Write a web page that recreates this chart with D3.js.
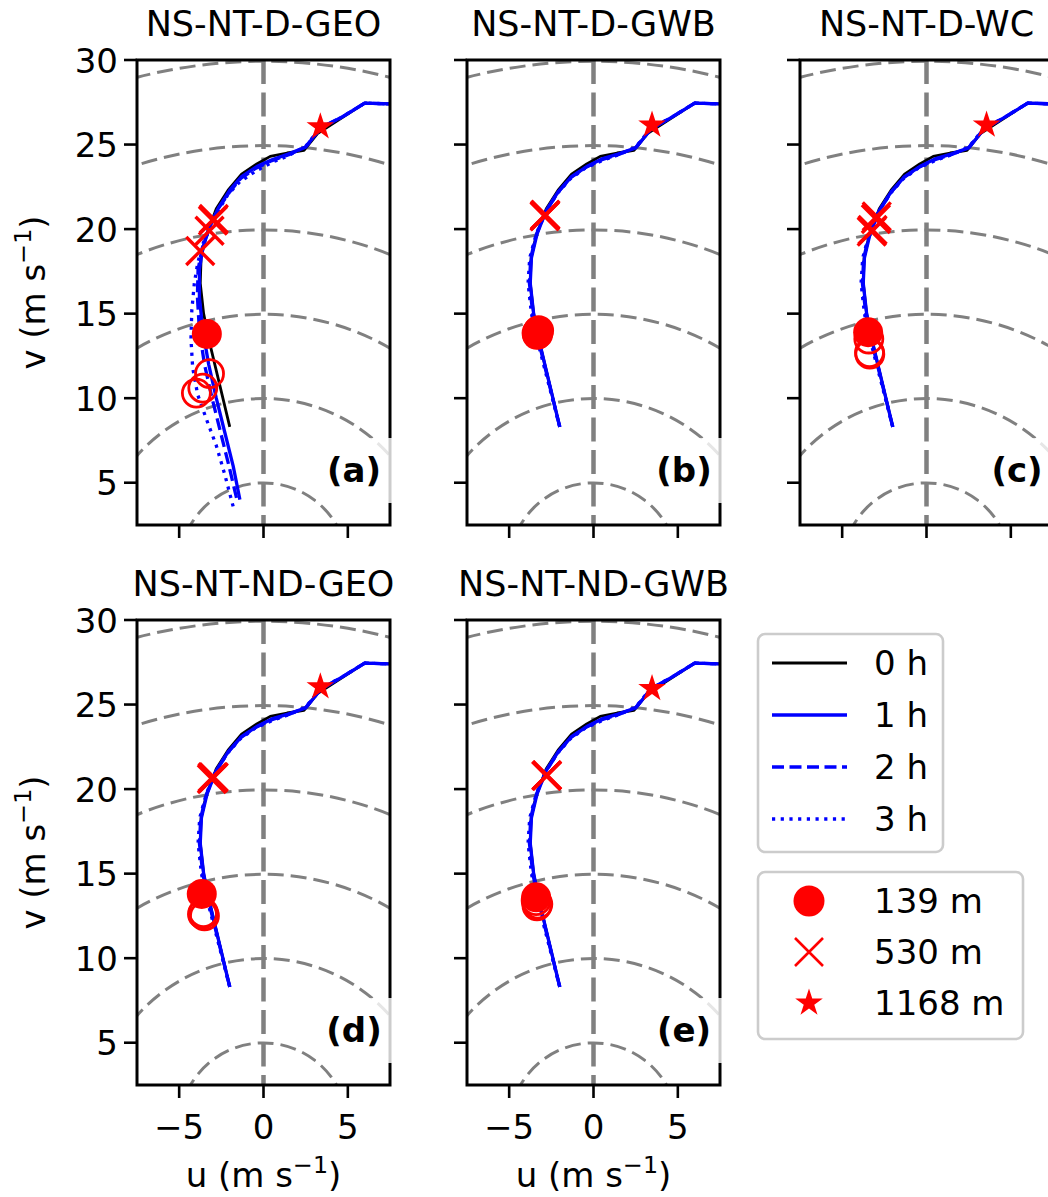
<!DOCTYPE html>
<html><head><meta charset="utf-8">
<script src="https://cdn.jsdelivr.net/npm/d3@7"></script>
<style>body{margin:0;background:#fff} svg{display:block} text{font-family:"DejaVu Sans",sans-serif}</style>
</head><body><svg id="chart" width="1048" height="1197"></svg>
<script>
// ---------------- data ----------------
const panelIds = ["a", "b", "c", "d", "e"];
const panelTitles = ["NS-NT-D-GEO", "NS-NT-D-GWB", "NS-NT-D-WC", "NS-NT-ND-GEO", "NS-NT-ND-GWB"];
const xTicks = [-5, 0, 5];
const yTicks = [5, 10, 15, 20, 25, 30];
const ringRadii = [5, 10, 15, 20, 25, 30];
const timeLabels = ["0 h", "1 h", "2 h", "3 h"];
const heightLabels = ["139 m", "530 m", "1168 m"];

// 0 h hodograph (u, v) – same initial profile in every panel
const hodo0h = [[-2.0,8.3],[-2.6,10.8],[-3.2,13.3],[-3.55,15.0],[-3.75,16.8],[-3.7,18.3],[-3.4,19.6],[-2.8,21.2],[-2.1,22.3],[-1.3,23.25],[-0.4,23.85],[0.4,24.3],[1.4,24.5],[2.4,24.65],[3.2,25.65],[4.6,26.55],[6.0,27.45],[7.6,27.4]];

// panel (a)
const hodoA1h = [[-1.4,4.0],[-1.8,6.0],[-2.3,8.0],[-2.8,10.0],[-3.25,12.0],[-3.6,14.0],[-3.8,16.0],[-3.8,17.6],[-3.6,18.9],[-3.2,20.1],[-2.7,21.2],[-2.0,22.3],[-1.3,23.1],[-0.4,23.7],[0.5,24.1],[1.5,24.45],[2.5,24.85],[3.4,26.0],[4.7,26.65],[6.0,27.45],[7.6,27.4]];
const hodoA2h = [[-1.6,4.1],[-2.05,6.0],[-2.55,8.0],[-3.05,10.0],[-3.5,12.0],[-3.8,14.0],[-3.92,16.0],[-3.88,17.6],[-3.63,18.9],[-3.2,20.1],[-2.7,21.2],[-2.0,22.2],[-1.35,23.0],[-0.45,23.6],[0.5,24.05],[1.5,24.4],[2.5,24.85],[3.4,26.0],[4.7,26.65],[6.0,27.45],[7.6,27.4]];
const hodoA3h = [[-1.8,3.6],[-2.3,5.5],[-2.8,7.2],[-3.4,8.8],[-3.9,10.2],[-4.2,11.8],[-4.3,13.5],[-4.25,15.2],[-4.1,16.8],[-3.9,18.0],[-3.6,19.1],[-3.2,20.1],[-2.75,21.0],[-2.1,22.05],[-1.4,22.8],[-0.5,23.4],[0.5,23.95],[1.5,24.35],[2.5,24.9],[3.3,25.9],[4.7,26.65],[6.0,27.45],[7.6,27.4]];

// panels (b)-(e): later hours stay close to the initial profile
const hodoB1h = [[-2.0,8.3],[-2.6,10.8],[-3.2,13.3],[-3.55,15.0],[-3.75,16.8],[-3.68,18.3],[-3.35,19.7],[-2.8,21.1],[-2.1,22.2],[-1.3,23.1],[-0.4,23.7],[0.5,24.15],[1.5,24.45],[2.5,24.8],[3.4,25.9],[4.7,26.65],[6.0,27.45],[7.6,27.4]];
const hodoB2h = [[-2.0,8.3],[-2.62,10.8],[-3.24,13.3],[-3.6,15.0],[-3.8,16.8],[-3.72,18.3],[-3.38,19.7],[-2.82,21.05],[-2.12,22.15],[-1.35,23.05],[-0.45,23.65],[0.5,24.1],[1.5,24.42],[2.5,24.82],[3.4,25.92],[4.7,26.65],[6.0,27.45],[7.6,27.4]];
const hodoB3h = [[-2.0,8.3],[-2.65,10.8],[-3.3,13.3],[-3.68,15.0],[-3.88,16.8],[-3.78,18.3],[-3.4,19.7],[-2.85,21.0],[-2.15,22.1],[-1.4,22.95],[-0.5,23.6],[0.5,24.05],[1.5,24.4],[2.5,24.85],[3.4,25.95],[4.7,26.65],[6.0,27.45],[7.6,27.4]];

// markers per panel: filled circles (139 m, 0 h), open circles (139 m, later), crosses (530 m), stars (1168 m)
const filledCircles = {a:[[-3.36,13.8]], b:[[-3.3,13.95],[-3.35,13.75]], c:[[-3.46,13.9]], d:[[-3.66,13.8]], e:[[-3.4,13.6]]};
const openCircles = {
  a:[[-3.2,11.45],[-3.6,10.6],[-3.98,10.3]],
  b:[[-3.3,13.8],[-3.35,13.85],[-3.25,14.0]],
  c:[[-3.42,13.5],[-3.36,12.6],[-3.38,12.7]],
  d:[[-3.62,12.6],[-3.5,12.5],[-3.56,12.7]],
  e:[[-3.3,13.2],[-3.35,13.1],[-3.4,13.4]]
};
const crosses = {
  a:[[-2.95,20.6],[-3.0,20.5],[-3.2,19.9],[-3.75,18.7]],
  b:[[-2.87,20.8],[-2.9,20.75],[-2.85,20.85],[-2.88,20.8]],
  c:[[-2.95,20.75],[-3.0,20.6],[-3.25,19.85],[-3.2,19.95]],
  d:[[-3.06,20.6],[-2.95,20.7],[-3.0,20.65],[-3.02,20.7]],
  e:[[-2.77,20.8],[-2.8,20.78],[-2.75,20.82],[-2.77,20.8]]
};
const stars = {a:[[3.37,26.05]], b:[[3.47,26.15]], c:[[3.56,26.15]], d:[[3.37,26.05]], e:[[3.47,25.95]]};

const hodoLines = {
  a:[hodo0h, hodoA1h, hodoA2h, hodoA3h],
  b:[hodo0h, hodoB1h, hodoB2h, hodoB3h],
  c:[hodo0h, hodoB1h, hodoB2h, hodoB3h],
  d:[hodo0h, hodoB1h, hodoB2h, hodoB3h],
  e:[hodo0h, hodoB1h, hodoB2h, hodoB3h]
};

// ---------------- layout / style ----------------
const W = 253, H = 465;
const origins = {a:[137,60], b:[467,60], c:[800,60], d:[137,620], e:[467,620]};
const showYLabels = {a:true, d:true};
const showXLabels = {d:true, e:true};
const lineStyles = [
  {color:"#000", w:2.8, dash:null},
  {color:"#0000ff", w:3.3, dash:null},
  {color:"#0000ff", w:3.3, dash:"12,5.5"},
  {color:"#0000ff", w:3.3, dash:"3.2,5.5"}
];
const FS = 34;

const svg = d3.select("#chart");
const x = d3.scaleLinear().domain([-7.5, 7.5]).range([0, W]);
const y = d3.scaleLinear().domain([2.5, 30]).range([H, 0]);
const line = d3.line().x(d => x(d[0])).y(d => y(d[1]));

function addUnitLabel(sel, letter) {
  sel.append("tspan").text(letter + " (m s");
  sel.append("tspan").attr("dy", -14).attr("font-size", FS * 0.7).text("\u22121");
  sel.append("tspan").attr("dy", 14).text(")");
}

panelIds.forEach((id, i) => {
  const [ox, oy] = origins[id];
  const g = svg.append("g").attr("transform", `translate(${ox},${oy})`);
  const clipId = "clip-" + id;
  g.append("clipPath").attr("id", clipId).append("rect").attr("width", W).attr("height", H);
  const plot = g.append("g").attr("clip-path", `url(#${clipId})`);

  // reference rings
  plot.selectAll("path.ring").data(ringRadii).join("path")
    .attr("class", "ring")
    .attr("d", r => {
      const p = d3.path();
      p.arc(x(0), y(0), x(r) - x(0), 0, 2 * Math.PI);
      return p.toString();
    })
    .attr("fill", "none").attr("stroke", "#808080").attr("stroke-width", 3)
    .attr("stroke-dasharray", "16,7");
  // zero line
  plot.append("line").attr("x1", x(0)).attr("x2", x(0)).attr("y1", 0).attr("y2", H)
    .attr("stroke", "#808080").attr("stroke-width", 4.5).attr("stroke-dasharray", "24,8.5");

  // hodographs
  hodoLines[id].forEach((pts, k) => {
    const st = lineStyles[k];
    plot.append("path").attr("d", line(pts)).attr("fill", "none")
      .attr("stroke", st.color).attr("stroke-width", st.w)
      .attr("stroke-dasharray", st.dash).attr("stroke-linejoin", "round");
  });

  // markers
  plot.selectAll("circle.f").data(filledCircles[id]).join("circle")
    .attr("cx", d => x(d[0])).attr("cy", d => y(d[1])).attr("r", 15).attr("fill", "#ff0000");
  plot.selectAll("circle.o").data(openCircles[id]).join("circle")
    .attr("cx", d => x(d[0])).attr("cy", d => y(d[1])).attr("r", 14)
    .attr("fill", "none").attr("stroke", "#ff0000").attr("stroke-width", 2.8);
  plot.selectAll("path.x").data(crosses[id]).join("path")
    .attr("transform", d => `translate(${x(d[0])},${y(d[1])})`)
    .attr("d", "M-14,-14L14,14M-14,14L14,-14")
    .attr("stroke", "#ff0000").attr("stroke-width", 3.4).attr("fill", "none");
  plot.selectAll("path.s").data(stars[id]).join("path")
    .attr("transform", d => `translate(${x(d[0])},${y(d[1])})`)
    .attr("d", d3.symbol(d3.symbolStar, 14.5 * 14.5 / 0.8908130915))
    .attr("fill", "#ff0000");

  // axes ticks
  const tickW = 2.6;
  yTicks.forEach(t => {
    g.append("line").attr("x1", -13).attr("x2", 0).attr("y1", y(t)).attr("y2", y(t))
      .attr("stroke", "#000").attr("stroke-width", tickW);
    if (showYLabels[id]) g.append("text").attr("x", -19).attr("y", y(t) + 12.5)
      .attr("text-anchor", "end").attr("font-size", FS).text(t);
  });
  xTicks.forEach(t => {
    g.append("line").attr("x1", x(t)).attr("x2", x(t)).attr("y1", H).attr("y2", H + 13)
      .attr("stroke", "#000").attr("stroke-width", tickW);
    if (showXLabels[id]) g.append("text").attr("x", x(t)).attr("y", H + 54)
      .attr("text-anchor", "middle").attr("font-size", FS).text(t < 0 ? "\u2212" + Math.abs(t) : t);
  });

  // frame
  g.append("rect").attr("width", W).attr("height", H).attr("fill", "none")
    .attr("stroke", "#000").attr("stroke-width", 3);

  // panel label with translucent box
  g.append("rect").attr("x", W - 74).attr("y", H - 87).attr("width", 77).attr("height", 65)
    .attr("fill", "#fff").attr("fill-opacity", 0.8);
  g.append("text").attr("x", W - 36).attr("y", H - 43).attr("text-anchor", "middle")
    .attr("font-size", 34).attr("font-weight", "bold").text(`(${id})`);

  // title
  g.append("text").attr("x", W / 2).attr("y", -24).attr("text-anchor", "middle")
    .attr("font-size", 35).text(panelTitles[i]);

  if (showYLabels[id]) {
    const t = g.append("text").attr("transform", `translate(-92,${H / 2}) rotate(-90)`)
      .attr("text-anchor", "middle").attr("font-size", FS);
    addUnitLabel(t, "v");
  }
  if (showXLabels[id]) {
    const t = g.append("text").attr("x", W / 2).attr("y", H + 102)
      .attr("text-anchor", "middle").attr("font-size", FS);
    addUnitLabel(t, "u");
  }
});

// ---------------- legends ----------------
const leg1 = svg.append("g");
leg1.append("rect").attr("x", 758).attr("y", 634).attr("width", 185).attr("height", 218)
  .attr("rx", 7).attr("fill", "#fff").attr("stroke", "#cccccc").attr("stroke-width", 2.6);
timeLabels.forEach((lab, k) => {
  const yy = 663 + k * 52;
  const st = lineStyles[k];
  leg1.append("line").attr("x1", 772).attr("x2", 847).attr("y1", yy).attr("y2", yy)
    .attr("stroke", st.color).attr("stroke-width", st.w).attr("stroke-dasharray", st.dash);
  leg1.append("text").attr("x", 874).attr("y", yy + 12).attr("font-size", FS).text(lab);
});

const leg2 = svg.append("g");
leg2.append("rect").attr("x", 758).attr("y", 872).attr("width", 265).attr("height", 167)
  .attr("rx", 7).attr("fill", "#fff").attr("stroke", "#cccccc").attr("stroke-width", 2.6);
heightLabels.forEach((lab, k) => {
  const yy = 901 + k * 51;
  const gm = leg2.append("g").attr("transform", `translate(809,${yy})`);
  if (k === 0) gm.append("circle").attr("r", 15.5).attr("fill", "#ff0000");
  if (k === 1) gm.append("path").attr("d", "M-14,-14L14,14M-14,14L14,-14")
    .attr("stroke", "#ff0000").attr("stroke-width", 2.6);
  if (k === 2) gm.append("path").attr("d", d3.symbol(d3.symbolStar, 14.5 * 14.5 / 0.8908130915)).attr("fill", "#ff0000");
  leg2.append("text").attr("x", 874).attr("y", yy + 12).attr("font-size", FS).text(lab);
});
</script></body></html>
